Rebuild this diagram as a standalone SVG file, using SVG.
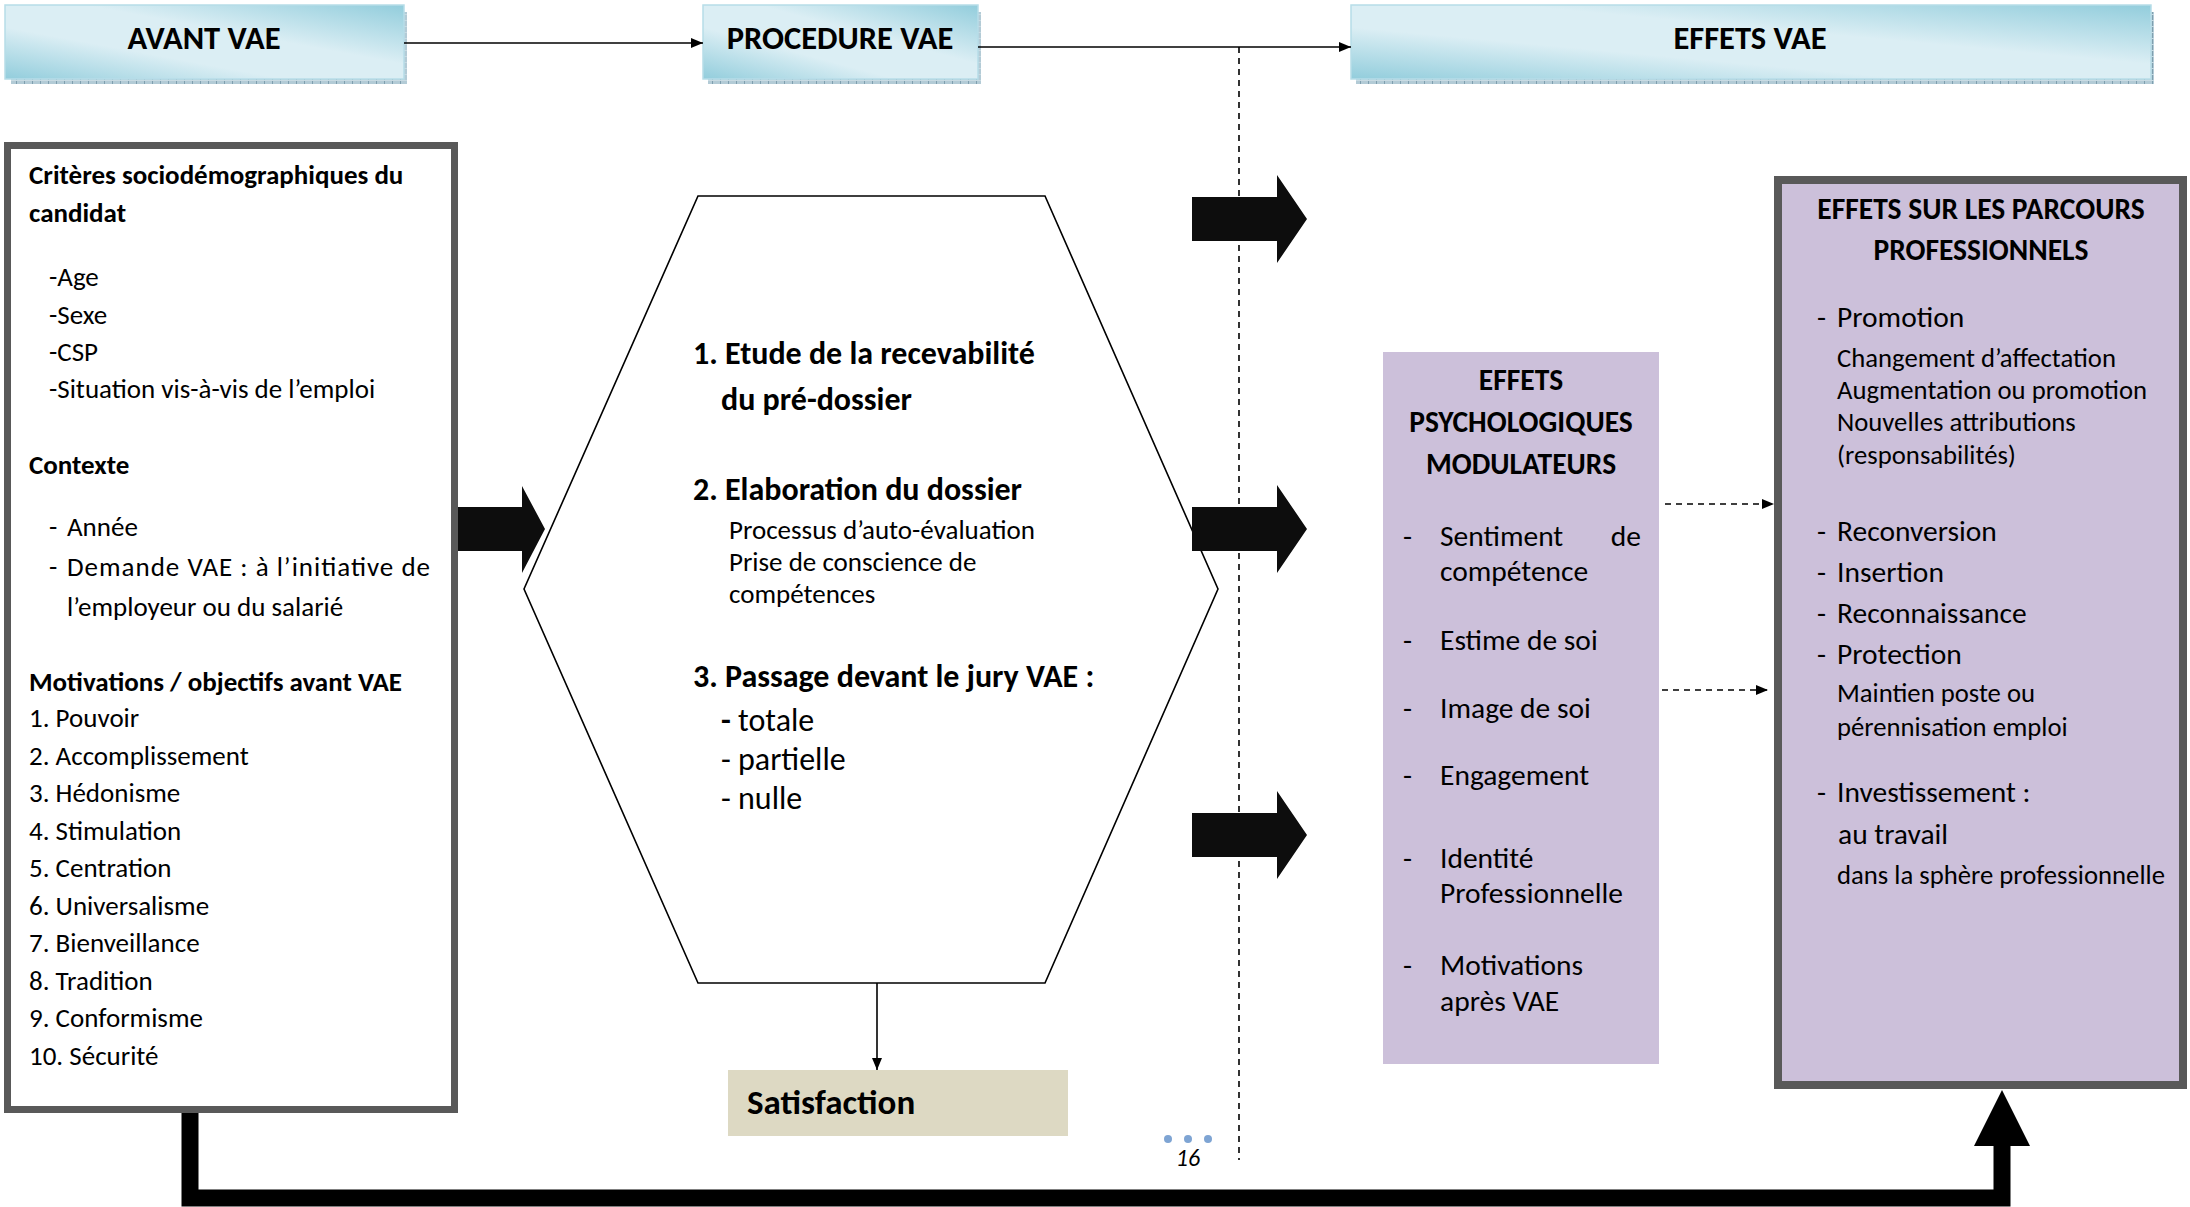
<svg xmlns="http://www.w3.org/2000/svg" width="2190" height="1207" viewBox="0 0 2190 1207">
  <defs>
    <linearGradient id="hdrGrad" x1="0" y1="1" x2="1" y2="0">
      <stop offset="0" stop-color="#92cddc"/>
      <stop offset="0.35" stop-color="#dbeef4"/>
      <stop offset="0.6" stop-color="#dbeef4"/>
      <stop offset="1" stop-color="#92cddc"/>
    </linearGradient>
    <pattern id="tex" width="8" height="6" patternUnits="userSpaceOnUse">
      <rect width="8" height="6" fill="#b3cbd6"/>
      <rect x="0" y="0" width="1" height="6" fill="#7f9faf"/>
      <rect x="0" y="2" width="8" height="1" fill="#c9dbe3"/>
    </pattern>
    <marker id="arr" viewBox="0 0 12 10" refX="12" refY="5" markerWidth="12" markerHeight="10" markerUnits="userSpaceOnUse" orient="auto">
      <path d="M0,0 L12,5 L0,10 Z" fill="#000"/>
    </marker>
    <style>
      text { font-family: Carlito, Lato, "Liberation Sans", sans-serif; fill: #000; }
      .hdr { font-size: 32.5px; font-weight: bold; text-anchor: middle; }
      .b { font-weight: bold; }
      .l { font-size: 27px; }
      .hx { font-size: 32px; }
      .hs { font-size: 27px; }
      .pm { font-size: 29.5px; }
      .rs { font-size: 26.7px; }
      .mid { text-anchor: middle; }
      .end { text-anchor: end; }
      .hbox { fill: url(#hdrGrad); stroke: #b7dde8; stroke-width: 1.5; }
      .tex { fill: url(#tex); }
      .conn { fill: none; stroke: #000; stroke-width: 1.6; }
      .dash { fill: none; stroke: #000; stroke-width: 1.6; stroke-dasharray: 6 5; }
      .block { fill: #0d0d0d; }
      .grayBox { stroke: #595959; }
      .purple { fill: #ccc0da; }
    </style>
  </defs>

  <rect width="2190" height="1207" fill="#ffffff"/>

  <!-- Header nodes -->
  <g id="hdr-avant">
    <rect class="tex" x="11" y="78" width="396" height="6"/>
    <rect class="tex" x="403" y="12" width="4" height="72"/>
    <rect class="hbox" x="5" y="5" width="399" height="74"/>
    <text class="hdr" x="204" y="49">AVANT VAE</text>
  </g>
  <g id="hdr-procedure">
    <rect class="tex" x="708" y="78" width="273" height="6"/>
    <rect class="tex" x="977" y="12" width="4" height="72"/>
    <rect class="hbox" x="703" y="5" width="275" height="74"/>
    <text class="hdr" x="840" y="49">PROCEDURE VAE</text>
  </g>
  <g id="hdr-effets">
    <rect class="tex" x="1356" y="78" width="798" height="6"/>
    <rect class="tex" x="2150" y="12" width="4" height="72"/>
    <rect class="hbox" x="1351" y="5" width="800" height="74"/>
    <text class="hdr" x="1750" y="49">EFFETS VAE</text>
  </g>

  <!-- Connectors -->
  <g id="connectors">
    <line class="conn" x1="404" y1="43" x2="703" y2="43" marker-end="url(#arr)"/>
    <line class="conn" x1="978" y1="47" x2="1351" y2="47" marker-end="url(#arr)"/>
    <line class="dash" x1="1239" y1="47" x2="1239" y2="1160"/>
    <line class="conn" x1="877" y1="983" x2="877" y2="1070" marker-end="url(#arr)"/>
    <line class="dash" x1="1665" y1="504" x2="1774" y2="504" marker-end="url(#arr)"/>
    <line class="dash" x1="1662" y1="690" x2="1768" y2="690" marker-end="url(#arr)"/>
    <!-- big L arrow -->
    <path d="M190,1110 L190,1198 L2002,1198 L2002,1140" fill="none" stroke="#000" stroke-width="17" stroke-linejoin="miter"/>
    <polygon points="1974,1146 2030,1146 2002,1090" fill="#000"/>
    <!-- block arrow into procedure -->
    <polygon class="block" points="453,507 522,507 522,486 545,529 522,573 522,551 453,551"/>
  </g>

  <!-- Left box -->
  <g id="avant-box">
    <rect x="7.5" y="145.5" width="447" height="964" fill="#fff" class="grayBox" stroke-width="7"/>
    <text class="l b" x="29" y="184">Critères sociodémographiques du</text>
    <text class="l b" x="29" y="222">candidat</text>
    <text class="l" x="49" y="286">-Age</text>
    <text class="l" x="49" y="324">-Sexe</text>
    <text class="l" x="49" y="361">-CSP</text>
    <text class="l" x="49" y="398">-Situation vis-à-vis de l’emploi</text>
    <text class="l b" x="29" y="474">Contexte</text>
    <text class="l" x="49" y="536">-</text>
    <text class="l" x="67" y="536">Année</text>
    <text class="l" x="49" y="576">-</text>
    <text class="l" x="67" y="576" textLength="363" lengthAdjust="spacing">Demande VAE : à l’initiative de</text>
    <text class="l" x="67" y="616">l’employeur ou du salarié</text>
    <text class="l b" x="29" y="691">Motivations / objectifs avant VAE</text>
    <text class="l" x="29" y="727">1. Pouvoir</text>
    <text class="l" x="29" y="765">2. Accomplissement</text>
    <text class="l" x="29" y="802">3. Hédonisme</text>
    <text class="l" x="29" y="840">4. Stimulation</text>
    <text class="l" x="29" y="877">5. Centration</text>
    <text class="l" x="29" y="915">6. Universalisme</text>
    <text class="l" x="29" y="952">7. Bienveillance</text>
    <text class="l" x="29" y="990">8. Tradition</text>
    <text class="l" x="29" y="1027">9. Conformisme</text>
    <text class="l" x="29" y="1065">10. Sécurité</text>
  </g>

  <!-- Hexagon procedure -->
  <g id="procedure-hex">
    <polygon points="698,196 1045,196 1218,589 1045,983 698,983 524,589" fill="#fff" stroke="#000" stroke-width="1.6"/>
    <text class="hx b" x="693" y="364">1. Etude de la recevabilité</text>
    <text class="hx b" x="721" y="410">du pré-dossier</text>
    <text class="hx b" x="693" y="500">2. Elaboration du dossier</text>
    <text class="hs" x="729" y="539">Processus d’auto-évaluation</text>
    <text class="hs" x="729" y="571">Prise de conscience de</text>
    <text class="hs" x="729" y="603">compétences</text>
    <text class="hx b" x="693" y="687">3. Passage devant le jury VAE :</text>
    <text class="hx" x="721" y="731"><tspan class="b">-</tspan> totale</text>
    <text class="hx" x="721" y="770">- partielle</text>
    <text class="hx" x="721" y="809">- nulle</text>
  </g>

  <!-- Right block arrows -->
  <g id="block-arrows">
    <polygon class="block" points="1192,197 1277,197 1277,175 1307,219 1277,263 1277,241 1192,241"/>
    <polygon class="block" points="1192,507 1277,507 1277,485 1307,529 1277,573 1277,551 1192,551"/>
    <polygon class="block" points="1192,813 1277,813 1277,791 1307,835 1277,879 1277,857 1192,857"/>
  </g>

  <!-- Satisfaction -->
  <g id="satisfaction">
    <rect x="728" y="1070" width="340" height="66" fill="#ddd9c3"/>
    <text class="b" x="747" y="1114" font-size="35">Satisfaction</text>
  </g>

  <!-- Page marker -->
  <g id="page">
    <circle cx="1168" cy="1139" r="4" fill="#7ea4d3"/>
    <circle cx="1188" cy="1139" r="4" fill="#7ea4d3"/>
    <circle cx="1208" cy="1139" r="4" fill="#7ea4d3"/>
    <text x="1188" y="1166" font-size="24" font-style="italic" text-anchor="middle">16</text>
  </g>

  <!-- Psychological effects -->
  <g id="effets-psy">
    <rect class="purple" x="1383" y="352" width="276" height="712"/>
    <text class="pm b mid" x="1521" y="390">EFFETS</text>
    <text class="pm b mid" x="1521" y="432">PSYCHOLOGIQUES</text>
    <text class="pm b mid" x="1521" y="474">MODULATEURS</text>
    <text class="pm" x="1403" y="546">-</text>
    <text class="pm" x="1440" y="546">Sentiment</text>
    <text class="pm end" x="1641" y="546">de</text>
    <text class="pm" x="1440" y="581">compétence</text>
    <text class="pm" x="1403" y="650">-</text>
    <text class="pm" x="1440" y="650">Estime de soi</text>
    <text class="pm" x="1403" y="718">-</text>
    <text class="pm" x="1440" y="718">Image de soi</text>
    <text class="pm" x="1403" y="785">-</text>
    <text class="pm" x="1440" y="785">Engagement</text>
    <text class="pm" x="1403" y="868">-</text>
    <text class="pm" x="1440" y="868">Identité</text>
    <text class="pm" x="1440" y="903">Professionnelle</text>
    <text class="pm" x="1403" y="975">-</text>
    <text class="pm" x="1440" y="975">Motivations</text>
    <text class="pm" x="1440" y="1011">après VAE</text>
  </g>

  <!-- Career effects -->
  <g id="effets-parcours">
    <rect class="purple grayBox" x="1778" y="180" width="405" height="905" stroke-width="8"/>
    <text class="pm b mid" x="1981" y="219">EFFETS SUR LES PARCOURS</text>
    <text class="pm b mid" x="1981" y="260">PROFESSIONNELS</text>
    <text class="pm" x="1817" y="327">-</text>
    <text class="pm" x="1837" y="327">Promotion</text>
    <text class="rs" x="1837" y="367">Changement d’affectation</text>
    <text class="rs" x="1837" y="399">Augmentation ou promotion</text>
    <text class="rs" x="1837" y="431">Nouvelles attributions</text>
    <text class="rs" x="1837" y="464">(responsabilités)</text>
    <text class="pm" x="1817" y="541">-</text>
    <text class="pm" x="1837" y="541">Reconversion</text>
    <text class="pm" x="1817" y="582">-</text>
    <text class="pm" x="1837" y="582">Insertion</text>
    <text class="pm" x="1817" y="623">-</text>
    <text class="pm" x="1837" y="623">Reconnaissance</text>
    <text class="pm" x="1817" y="664">-</text>
    <text class="pm" x="1837" y="664">Protection</text>
    <text class="rs" x="1837" y="702">Maintien poste ou</text>
    <text class="rs" x="1837" y="736">pérennisation emploi</text>
    <text class="pm" x="1817" y="802">-</text>
    <text class="pm" x="1837" y="802">Investissement :</text>
    <text class="pm" x="1838" y="844">au travail</text>
    <text class="rs" x="1837" y="884">dans la sphère professionnelle</text>
  </g>
</svg>
